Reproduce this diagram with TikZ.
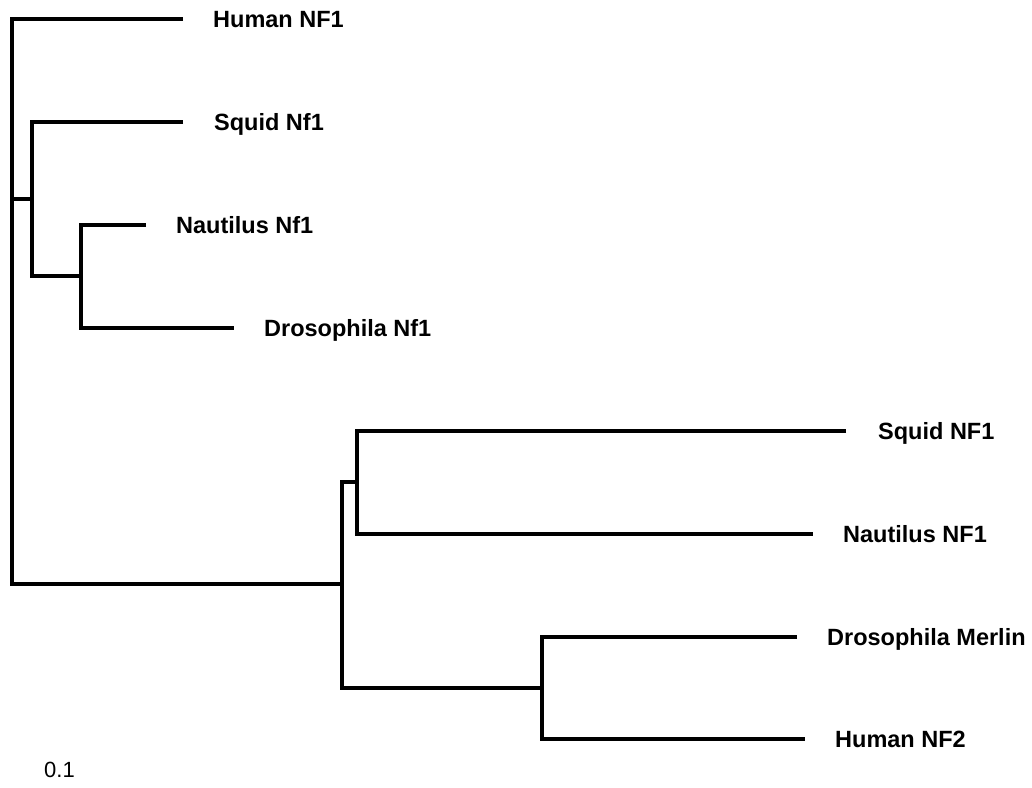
\documentclass[tikz,border=0pt]{standalone}
\usepackage{fontspec}
\setmainfont{Liberation Sans}
\begin{document}
\begin{tikzpicture}[x=1pt,y=-1pt,
  branch/.style={line width=3.2pt, line join=miter, line cap=butt, black},
  leaf/.style={anchor=base west, inner sep=0pt, font=\fontsize{23.5}{27}\selectfont\bfseries, text=black, yshift=-8.5pt},
  scalelbl/.style={anchor=base west, inner sep=0pt, font=\fontsize{22}{26}\selectfont, text=black}]
\useasboundingbox (0,0) rectangle (1032,787);
% internal nodes
\coordinate (root) at (12,199);
\coordinate (B) at (32,199);
\coordinate (C) at (81,276);
\coordinate (D) at (342,584);
\coordinate (E) at (357,482);
\coordinate (F) at (542,688);
% tips
\coordinate (tHum1) at (183,19);
\coordinate (tSq1) at (183,122);
\coordinate (tNau1) at (146,225);
\coordinate (tDro1) at (234,328);
\coordinate (tSqN) at (846,431);
\coordinate (tNauN) at (813,534);
\coordinate (tDM) at (797,637);
\coordinate (tHN2) at (805,739);
% branches
\draw[branch] (tHum1) -| (root) |- (D);
\draw[branch] (root) -- (B);
\draw[branch] (tSq1) -| (B) |- (C);
\draw[branch] (tNau1) -| (C) |- (tDro1);
\draw[branch] (E) -| (D) |- (F);
\draw[branch] (tSqN) -| (E) |- (tNauN);
\draw[branch] (tDM) -| (F) |- (tHN2);
% labels
\node[leaf] (lHum1) at ([xshift=30pt]tHum1) {Human NF1};
\node[leaf] (lSq1) at ([xshift=31pt]tSq1) {Squid Nf1};
\node[leaf] (lNau1) at ([xshift=30pt]tNau1) {Nautilus Nf1};
\node[leaf] (lDro1) at ([xshift=30pt]tDro1) {Drosophila Nf1};
\node[leaf] (lSqN) at ([xshift=32pt]tSqN) {Squid NF1};
\node[leaf] (lNauN) at ([xshift=30pt]tNauN) {Nautilus NF1};
\node[leaf] (lDM) at ([xshift=30pt]tDM) {Drosophila Merlin};
\node[leaf] (lHN2) at ([xshift=30pt]tHN2) {Human NF2};
\node[scalelbl] (scale) at (44,777) {0.1};
\end{tikzpicture}
\end{document}
